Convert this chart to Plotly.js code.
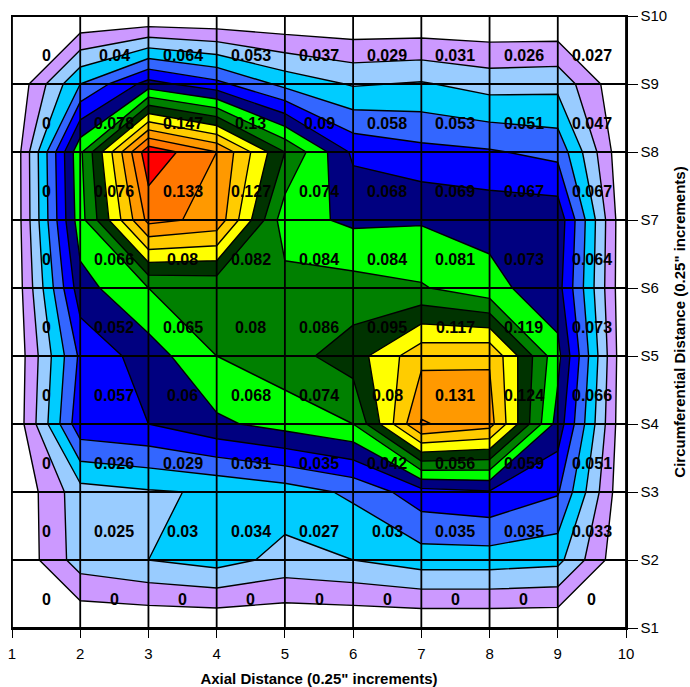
<!DOCTYPE html>
<html>
<head>
<meta charset="utf-8">
<script src="https://cdn.plot.ly/plotly-3.0.1.min.js"></script>
<style>html,body{margin:0;padding:0;background:#fff;}#chart{width:690px;height:687px;}</style>
</head>
<body>
<div id="chart"></div>
<script>
// Axis categories
const axialTicks = [1, 2, 3, 4, 5, 6, 7, 8, 9, 10];
const circTicks = [1, 2, 3, 4, 5, 6, 7, 8, 9, 10];
const circLabels = ["S1", "S2", "S3", "S4", "S5", "S6", "S7", "S8", "S9", "S10"];

// Measured values, rows from S1 (bottom) to S9, columns axial 1..9
const rowS1 = [0, 0, 0, 0, 0, 0, 0, 0, 0];
const rowS2 = [0, 0.025, 0.03, 0.034, 0.027, 0.03, 0.035, 0.035, 0.033];
const rowS3 = [0, 0.026, 0.029, 0.031, 0.035, 0.042, 0.056, 0.059, 0.051];
const rowS4 = [0, 0.057, 0.06, 0.068, 0.074, 0.08, 0.131, 0.124, 0.066];
const rowS5 = [0, 0.052, 0.065, 0.08, 0.086, 0.095, 0.117, 0.119, 0.073];
const rowS6 = [0, 0.066, 0.08, 0.082, 0.084, 0.084, 0.081, 0.073, 0.064];
const rowS7 = [0, 0.076, 0.133, 0.127, 0.074, 0.068, 0.069, 0.067, 0.067];
const rowS8 = [0, 0.078, 0.147, 0.13, 0.09, 0.058, 0.053, 0.051, 0.047];
const rowS9 = [0, 0.04, 0.064, 0.053, 0.037, 0.029, 0.031, 0.026, 0.027];
const rows = [rowS1, rowS2, rowS3, rowS4, rowS5, rowS6, rowS7, rowS8, rowS9];

// Band colours (below 0.01 ... above 0.14)
const bandColors = ["#FFFFFF", "#CC99FF", "#99CCFF", "#00CCFF", "#3366FF", "#0000FF", "#000080",
  "#00FF00", "#008000", "#003300", "#FFFF00", "#FFCC00", "#FF9900", "#FF7700", "#FF0000"];

// Build contour grid: values at integer positions, zero edge at S10 / axial 10
const z = [];
circTicks.forEach((cy, j) => {
  const r = rows[j] ? rows[j].slice() : axialTicks.slice(0, 9).map(() => 0);
  r.push(0);
  z.push(r);
});

const colorscale = bandColors.map((c, k) => [k / (bandColors.length - 1), c]);

const FONT = "Arial, 'Liberation Sans', sans-serif";

const contour = {
  type: "contour",
  x: axialTicks,
  y: circTicks,
  z: z,
  colorscale: colorscale,
  showscale: false,
  contours: {start: 0.01, end: 0.14, size: 0.01, coloring: "fill"},
  line: {color: "#000", width: 1.4, smoothing: 0},
  hoverinfo: "skip"
};

// Data labels at cell centres
const annotations = [];
rows.forEach((r, j) => r.forEach((v, i) => {
  annotations.push({
    x: axialTicks[i] + 0.5, y: circTicks[j] + 0.5, xref: "x", yref: "y",
    text: String(v), showarrow: false, yshift: -5,
    font: {family: FONT, size: 16, color: "#000", weight: 700}
  });
}));

const shapes = [];
axialTicks.forEach(v => shapes.push({type: "line", xref: "x", yref: "paper", x0: v, x1: v, y0: 0, y1: 1, layer: "above", line: {color: "#000", width: 1.8}}));
circTicks.forEach(v => shapes.push({type: "line", xref: "paper", yref: "y", x0: 0, x1: 1, y0: v, y1: v, layer: "above", line: {color: "#000", width: 1.8}}));

const layout = {
  width: 690, height: 687,
  margin: {l: 12, r: 64, t: 16, b: 59},
  paper_bgcolor: "#fff", plot_bgcolor: "#fff",
  showlegend: false,
  font: {family: FONT, size: 15, color: "#000"},
  xaxis: {
    range: [1, 10], tickvals: axialTicks, ticktext: axialTicks.map(String),
    ticks: "outside", ticklen: 8, tickcolor: "#000", tickwidth: 1,
    ticklabelstandoff: 3,
    showgrid: false, zeroline: false, showline: true, linecolor: "#000", linewidth: 1.5, mirror: true,
    tickfont: {family: FONT, size: 15},
    title: {text: "Axial Distance (0.25\" increments)", font: {family: FONT, size: 15, weight: 700}, standoff: 14}
  },
  yaxis: {
    side: "right",
    range: [1, 10], tickvals: circTicks, ticktext: circLabels,
    ticks: "outside", ticklen: 10, tickcolor: "#000", tickwidth: 1,
    showgrid: false, zeroline: false, showline: true, linecolor: "#000", linewidth: 1.5, mirror: true,
    tickfont: {family: FONT, size: 15},
    title: {text: "Circumferential Distance (0.25\" increments)", font: {family: FONT, size: 15, weight: 700}, standoff: 8}
  },
  annotations: annotations,
  shapes: shapes
};

Plotly.newPlot("chart", [contour], layout, {displayModeBar: false, staticPlot: true});
</script>
</body>
</html>
